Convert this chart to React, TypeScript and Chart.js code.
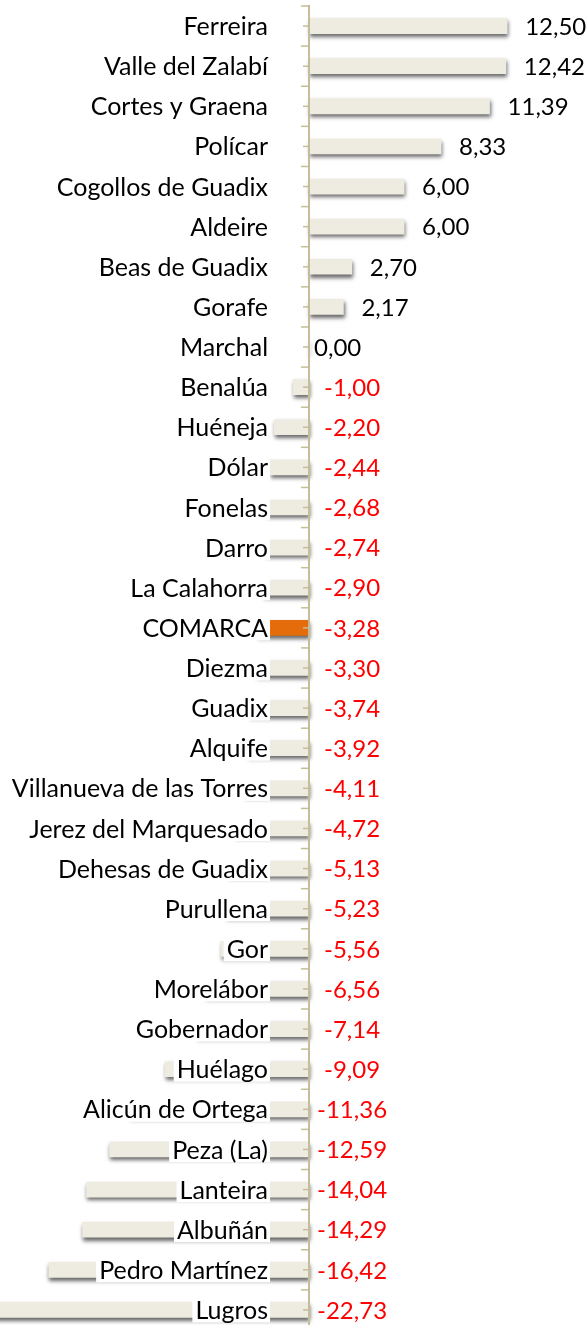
import React, { useEffect, useRef } from 'react';
import { Chart, registerables } from 'chart.js';

Chart.register(...registerables);

const categories = [
  'Ferreira', 'Valle del Zalabí', 'Cortes y Graena', 'Polícar', 'Cogollos de Guadix',
  'Aldeire', 'Beas de Guadix', 'Gorafe', 'Marchal', 'Benalúa', 'Huéneja', 'Dólar',
  'Fonelas', 'Darro', 'La Calahorra', 'COMARCA', 'Diezma', 'Guadix', 'Alquife',
  'Villanueva de las Torres', 'Jerez del Marquesado', 'Dehesas de Guadix', 'Purullena',
  'Gor', 'Morelábor', 'Gobernador', 'Huélago', 'Alicún de Ortega', 'Peza (La)',
  'Lanteira', 'Albuñán', 'Pedro Martínez', 'Lugros',
];

const values = [
  12.5, 12.42, 11.39, 8.33, 6.0, 6.0, 2.7, 2.17, 0.0, -1.0, -2.2, -2.44,
  -2.68, -2.74, -2.9, -3.28, -3.3, -3.74, -3.92, -4.11, -4.72, -5.13, -5.23,
  -5.56, -6.56, -7.14, -9.09, -11.36, -12.59, -14.04, -14.29, -16.42, -22.73,
];

const highlightCategory = 'COMARCA';

const X_MIN = -19.5;
const X_MAX = 17.54;

const BAR_COLOR = '#EEECE1';
const HIGHLIGHT_COLOR = '#E46C0A';
const AXIS_COLOR = '#C4BD97';
const FONT_FAMILY = 'Lato, "Open Sans", sans-serif';

const fmt = (v: number) => v.toFixed(2).replace('.', ',');

const decorPlugin = {
  id: 'decor',
  beforeDatasetsDraw(chart: any) {
    const ctx = chart.ctx;
    ctx.save();
    ctx.shadowColor = 'rgba(0,0,0,0.6)';
    ctx.shadowBlur = 4;
    ctx.shadowOffsetX = 1;
    ctx.shadowOffsetY = 3;
  },
  afterDatasetsDraw(chart: any) {
    const ctx = chart.ctx;
    ctx.restore();
    const xs = chart.scales.x;
    const ys = chart.scales.y;
    const zx = xs.getPixelForValue(0);
    const { top, bottom } = chart.chartArea;
    const step = ys.getPixelForValue(1) - ys.getPixelForValue(0);

    // category labels with white backdrop
    ctx.save();
    ctx.font = `25px ${FONT_FAMILY}`;
    ctx.textBaseline = 'middle';
    ctx.textAlign = 'right';
    categories.forEach((c, i) => {
      const yp = ys.getPixelForValue(i);
      const right = zx - 41;
      const w = ctx.measureText(c).width;
      ctx.fillStyle = '#FFFFFF';
      ctx.fillRect(right - w - 3, yp - 12.5, w + 5, 25);
      ctx.fillStyle = '#000000';
      ctx.fillText(c, right, yp + 1);
    });
    ctx.restore();

    // axis line and ticks
    ctx.save();
    ctx.strokeStyle = AXIS_COLOR;
    ctx.lineWidth = 2;
    ctx.beginPath();
    ctx.moveTo(zx, top - 1);
    ctx.lineTo(zx, bottom);
    ctx.stroke();
    ctx.lineWidth = 1.5;
    for (let i = 0; i <= categories.length; i++) {
      const yb = ys.getPixelForValue(i) - step / 2;
      ctx.beginPath();
      ctx.moveTo(zx - 8, yb);
      ctx.lineTo(zx, yb);
      ctx.stroke();
    }
    for (let i = 0; i < categories.length; i++) {
      const yc = ys.getPixelForValue(i);
      ctx.beginPath();
      ctx.moveTo(zx - 6, yc);
      ctx.lineTo(zx, yc);
      ctx.stroke();
    }
    ctx.restore();

    // value labels
    ctx.save();
    ctx.font = `24px ${FONT_FAMILY}`;
    ctx.textBaseline = 'middle';
    values.forEach((v, i) => {
      const yp = ys.getPixelForValue(i) + 1;
      const t = fmt(v);
      if (v > 0) {
        ctx.fillStyle = '#000000';
        ctx.textAlign = 'left';
        ctx.fillText(t, xs.getPixelForValue(v) + 18, yp);
      } else if (v === 0) {
        ctx.fillStyle = '#000000';
        ctx.textAlign = 'left';
        ctx.fillText(t, zx + 5, yp);
      } else {
        ctx.fillStyle = '#FF0000';
        ctx.textAlign = 'center';
        ctx.fillText(t, zx + 43, yp);
      }
    });
    ctx.restore();
  },
};

export default function App() {
  const canvasRef = useRef<HTMLCanvasElement | null>(null);

  useEffect(() => {
    document.body.style.margin = '0';
    const canvas = canvasRef.current;
    if (!canvas) return;
    const chart = new Chart(canvas, {
      type: 'bar',
      data: {
        labels: categories,
        datasets: [
          {
            data: values,
            backgroundColor: categories.map((c) => (c === highlightCategory ? HIGHLIGHT_COLOR : BAR_COLOR)),
            borderWidth: 0,
            barThickness: 15,
          },
        ],
      },
      options: {
        indexAxis: 'y',
        responsive: false,
        maintainAspectRatio: false,
        devicePixelRatio: 1,
        animation: false,
        events: [],
        layout: { padding: { top: 6, left: 0, right: 0, bottom: 0 } },
        plugins: {
          legend: { display: false },
          tooltip: { enabled: false },
        },
        scales: {
          x: { type: 'linear', min: X_MIN, max: X_MAX, display: false },
          y: { type: 'category', display: false, offset: true },
        },
      },
      plugins: [decorPlugin],
    });
    return () => chart.destroy();
  }, []);

  return (
    <div style={{ width: 587, height: 1330, position: 'relative' }}>
      <canvas ref={canvasRef} width={587} height={1330} style={{ display: 'block' }} />
    </div>
  );
}
